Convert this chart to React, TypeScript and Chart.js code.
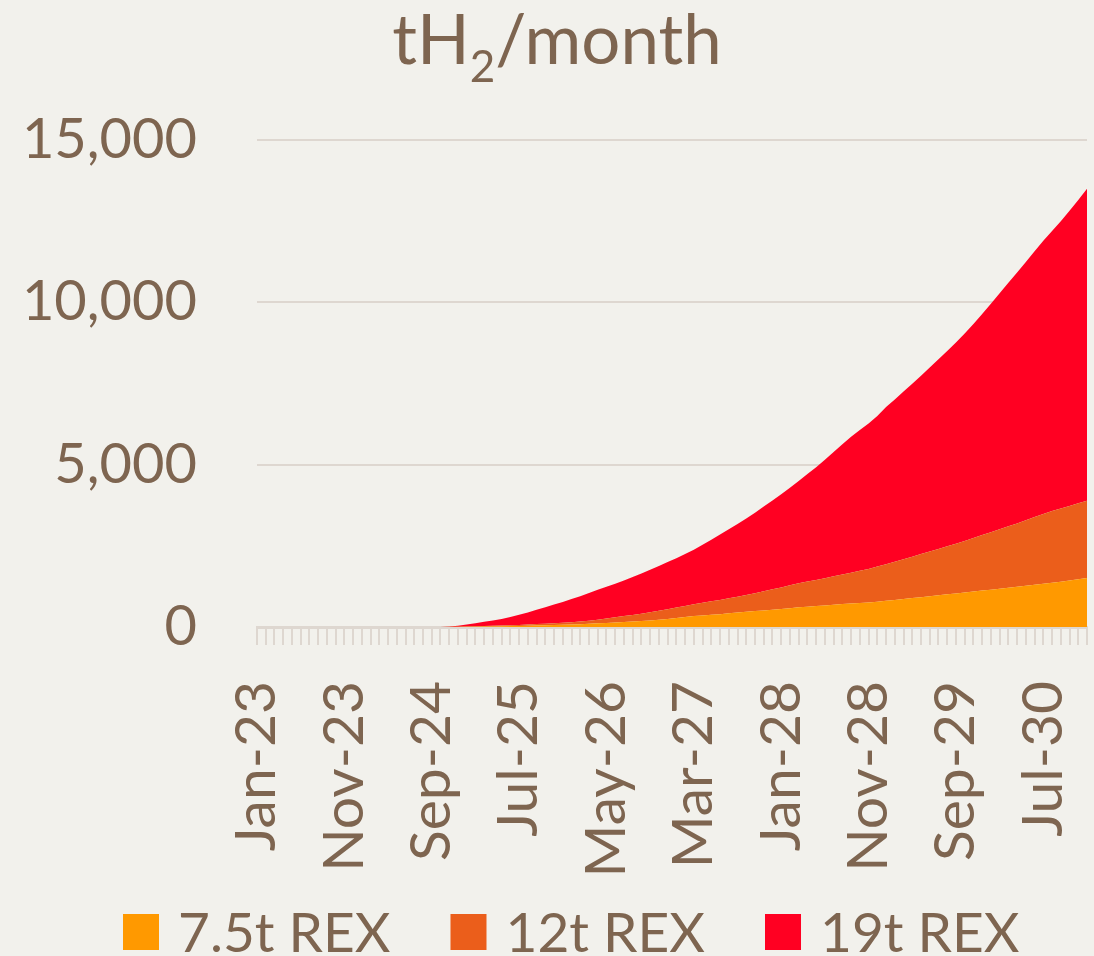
import React, { useEffect, useRef } from "react";
import { Chart, registerables } from "chart.js";

Chart.register(...registerables);

const MONTHS = ["Jan", "Feb", "Mar", "Apr", "May", "Jun", "Jul", "Aug", "Sep", "Oct", "Nov", "Dec"];
const YEARS = ["23", "24", "25", "26", "27", "28", "29", "30"];
const LABELS: string[] = [];
for (const y of YEARS) for (const m of MONTHS) LABELS.push(`${m}-${y}`);

const SERIES_NAMES = ["7.5t REX", "12t REX", "19t REX"];
const SERIES_COLORS = ["#FF9900", "#EB5E1B", "#FF0022"];

const ZEROS22 = [0, 0, 0, 0, 0, 0, 0, 0, 0, 0, 0, 0, 0, 0, 0, 0, 0, 0, 0, 0, 0, 0];

const REX_7_5T = [
  ...ZEROS22,
  2, 5, 8, 11, 14, 18, 22, 27, 32, 38,
  45, 52, 60, 68, 77, 87, 98, 112, 125, 140,
  155, 170, 185, 200, 225, 250, 280, 310, 335, 355,
  375, 395, 420, 445, 470, 490, 510, 530, 555, 580,
  605, 625, 645, 665, 685, 705, 720, 738, 755, 780,
  805, 830, 860, 890, 915, 945, 975, 1005, 1035, 1065,
  1095, 1125, 1150, 1180, 1210, 1240, 1270, 1300, 1330, 1360,
  1395, 1430, 1470, 1510,
];

const REX_12T = [
  ...ZEROS22,
  2, 5, 8, 11, 16, 19, 23, 28, 33, 40,
  45, 51, 57, 64, 73, 83, 97, 113, 135, 160,
  180, 200, 225, 254, 275, 300, 320, 340, 365, 390,
  415, 440, 465, 490, 515, 550, 590, 630, 665, 705,
  740, 775, 805, 840, 875, 910, 950, 992, 1035, 1080,
  1130, 1180, 1230, 1275, 1330, 1380, 1430, 1480, 1530, 1585,
  1645, 1705, 1770, 1830, 1890, 1950, 2020, 2090, 2150, 2210,
  2255, 2300, 2340, 2380,
];

const REX_19T = [
  ...ZEROS22,
  11, 30, 59, 93, 130, 163, 205, 255, 315, 372,
  440, 507, 573, 638, 710, 780, 855, 925, 980, 1030,
  1095, 1170, 1240, 1306, 1380, 1450, 1520, 1600, 1680, 1785,
  1900, 2015, 2125, 2235, 2355, 2480, 2610, 2740, 2870, 3005,
  3155, 3310, 3470, 3645, 3830, 4015, 4190, 4340, 4480, 4640,
  4845, 5000, 5160, 5325, 5495, 5665, 5845, 6015, 6195, 6390,
  6590, 6810, 7040, 7270, 7500, 7730, 7950, 8180, 8420, 8630,
  8850, 9090, 9340, 9610,
];

const Y_MAX = 15000;
const Y_STEP = 5000;
const LABEL_EVERY = 10;

const TEXT = "#7E6550";
const GRID = "#DED7D0";
const BG = "#F2F1EC";
const FONT = "Lato";

const titlePlugin = {
  id: "subTitle",
  afterDraw(chart: any) {
    const ctx = chart.ctx;
    ctx.save();
    ctx.fillStyle = TEXT;
    ctx.textBaseline = "alphabetic";
    const big = `69px ${FONT}`;
    const small = `44px ${FONT}`;
    const parts = [
      { t: "tH", f: big, dy: 0 },
      { t: "2", f: small, dy: 18 },
      { t: "/month", f: big, dy: 0 },
    ];
    let total = 0;
    for (const p of parts) {
      ctx.font = p.f;
      total += ctx.measureText(p.t).width;
    }
    let x = 557 - total / 2;
    const base = 64;
    for (const p of parts) {
      ctx.font = p.f;
      ctx.textAlign = "left";
      ctx.fillText(p.t, x, base + p.dy);
      x += ctx.measureText(p.t).width;
    }
    ctx.restore();
  },
};

const legendPlugin = {
  id: "bottomLegend",
  afterDraw(chart: any) {
    const ctx = chart.ctx;
    ctx.save();
    ctx.font = `55px ${FONT}`;
    ctx.textBaseline = "middle";
    ctx.textAlign = "left";
    const box = 36;
    const gapText = 19;
    const gapItem = 60;
    const cy = 932;
    let x = 123;
    chart.data.datasets.forEach((ds: any) => {
      ctx.fillStyle = ds.backgroundColor;
      ctx.fillRect(x, cy - box / 2, box, box);
      ctx.fillStyle = TEXT;
      ctx.fillText(ds.label, x + box + gapText, cy + 2);
      x += box + gapText + ctx.measureText(ds.label).width + gapItem;
    });
    ctx.restore();
  },
};

export default function App() {
  const ref = useRef<HTMLCanvasElement>(null);
  useEffect(() => {
    document.body.style.margin = "0";
    document.body.style.background = BG;
    const datasets = [REX_7_5T, REX_12T, REX_19T].map((d, i) => ({
      label: SERIES_NAMES[i],
      data: d,
      backgroundColor: SERIES_COLORS[i],
      borderColor: SERIES_COLORS[i],
      borderWidth: 0,
      pointRadius: 0,
      tension: 0,
      fill: i === 0 ? "origin" : "-1",
    }));
    const BOTTOM = 70;
    const chart = new Chart(ref.current!, {
      type: "line",
      data: { labels: LABELS, datasets },
      plugins: [titlePlugin, legendPlugin],
      options: {
        responsive: false,
        animation: false,
        layout: { padding: { top: 140, right: 7, left: 0, bottom: BOTTOM } },
        plugins: {
          title: { display: false },
          tooltip: { enabled: false },
          legend: { display: false },
        },
        scales: {
          x: {
            stacked: true,
            offset: false,
            grid: { drawOnChartArea: false, drawTicks: true, tickLength: 18, color: GRID, lineWidth: 2 },
            border: { display: true, color: GRID, width: 3 },
            ticks: {
              autoSkip: false,
              minRotation: 90,
              maxRotation: 90,
              padding: 36,
              color: TEXT,
              font: { family: FONT, size: 57 },
              callback: (_v: any, i: number) => (i % LABEL_EVERY === 0 ? LABELS[i] : ""),
            },
            afterFit: (s: any) => {
              s.height = 956 - 627 - BOTTOM;
              s.paddingLeft = 0;
              s.paddingRight = 0;
            },
          },
          y: {
            stacked: true,
            min: 0,
            max: Y_MAX,
            grid: { drawTicks: false, color: GRID, lineWidth: 2 },
            border: { display: false },
            ticks: {
              stepSize: Y_STEP,
              padding: 60,
              color: TEXT,
              font: { family: FONT, size: 56 },
              callback: (v: any) => Number(v).toLocaleString("en-US"),
            },
            afterFit: (s: any) => {
              s.width = 257;
            },
          },
        },
      },
    });
    return () => chart.destroy();
  }, []);
  return (
    <div style={{ width: 1094, height: 956, background: BG }}>
      <canvas ref={ref} width={1094} height={956} />
    </div>
  );
}
